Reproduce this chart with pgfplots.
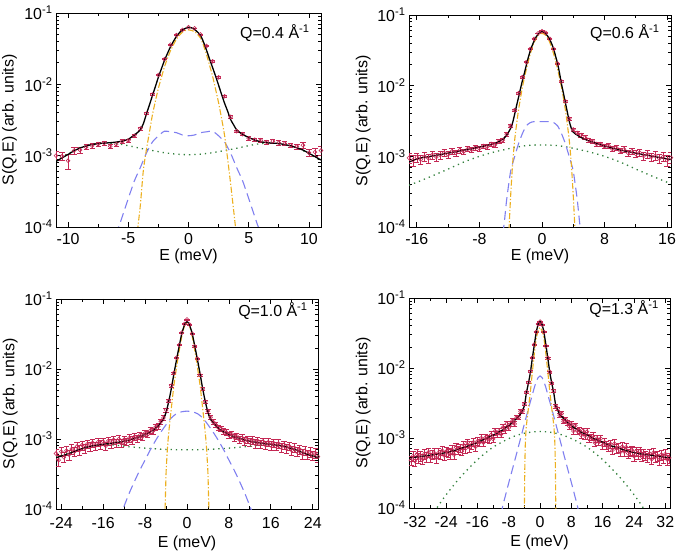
\documentclass[border=0pt]{standalone}
\usepackage{fontspec}
\setmainfont{Liberation Sans}
\usepackage{pgfplots}
\pgfplotsset{compat=1.18}
\definecolor{datc}{RGB}{196,40,84}
\definecolor{ylwc}{RGB}{236,176,32}
\definecolor{bluc}{RGB}{128,128,240}
\definecolor{grnc}{RGB}{50,128,60}
\pgfplotsset{every axis/.append style={
  scale only axis, ymin=1e-4, ymax=1e-1,
  ytick={1e-4,1e-3,1e-2,1e-1},
  yticklabels={10\textsuperscript{-4},10\textsuperscript{-3},10\textsuperscript{-2},10\textsuperscript{-1}},
  minor ytick={2e-4,3e-4,4e-4,5e-4,6e-4,7e-4,8e-4,9e-4,2e-3,3e-3,4e-3,5e-3,6e-3,7e-3,8e-3,9e-3,2e-2,3e-2,4e-2,5e-2,6e-2,7e-2,8e-2,9e-2},
  tick align=inside, major tick length=5bp, minor tick length=3bp,
  axis line style={line width=0.9bp},
  tick style={line width=0.8bp, black},
  tick label style={font=\fontsize{16}{19}\selectfont},
  label style={font=\fontsize{16}{19}\selectfont},
  xlabel={E (meV)}, ylabel={S(Q,E) (arb. units)},
  ylabel style={at={(axis description cs:-0.175,0.5)}, anchor=center},
}}
\tikzset{
 datmk/.style={only marks, mark=o, mark size=1.9bp, color=datc, line width=0.6bp},
 blkline/.style={black, line width=1.3bp, smooth, tension=0.4},
 ylwline/.style={ylwc, line width=1.1bp, dash pattern=on 6bp off 2bp on 1.2bp off 2bp, smooth, tension=0.4},
 bluline/.style={bluc, line width=1.1bp, dash pattern=on 9bp off 5bp, smooth, tension=0.4},
 grnline/.style={grnc, line width=1.3bp, dash pattern=on 1.3bp off 4bp, smooth, tension=0.4},
 qlab/.style={font=\fontsize{16}{19}\selectfont},
}
\begin{document}
\begin{tikzpicture}
\useasboundingbox (0,0) rectangle (677bp,552bp);
% ---------------- Panel 1: Q=0.4
\begin{semilogyaxis}[at={(56bp,325bp)}, anchor=south west, width=265bp, height=214bp,
  xmin=-11, xmax=11, xtick={-10,-5,0,5,10}, xticklabels={-10,-5,0,5,10},
  minor xtick={-7.5,-2.5,2.5,7.5},
  xticklabel style={yshift=-2.5bp},
  xlabel style={at={(axis description cs:0.5,-0.1355)}, anchor=center}]
\addplot[datmk, error bars/.cd, y dir=both, y explicit, error bar style={line width=0.6bp, datc}, error mark options={rotate=90, mark size=2.6bp, line width=0.6bp, datc}] table[x index=0, y index=1, y error index=2] {
-11 0.00100 0.00015
-10.5 0.00098 0.00012
-10 0.00085 0.00020
-9.5 0.00118 0.00013
-9 0.00120 0.00012
-8.5 0.00132 0.00011
-8 0.00138 0.00010
-7.5 0.00145 0.00010
-7 0.00150 0.00010
-6.5 0.00135 0.00010
-6 0.00145 0.00009
-5.5 0.00158 0.00009
-5 0.00163 0.00009
-4.5 0.0019 0.0001
-4 0.0024 0.00011
-3.5 0.0039 0.00014
-3 0.0072 0.0002
-2.5 0.0135 0.0003
-2 0.0225 0.0004
-1.5 0.036 0.0006
-1 0.049 0.0007
-0.5 0.058 0.0008
0 0.063 0.0008
0.5 0.061 0.0008
1 0.050 0.0007
1.5 0.0345 0.0006
2 0.021 0.0004
2.5 0.0125 0.0003
3 0.0068 0.0002
3.5 0.0035 0.00013
4 0.0022 0.0001
4.5 0.0020 0.0001
5 0.00175 0.0001
5.5 0.00168 0.0001
6 0.00165 0.0001
6.5 0.00155 0.0001
7 0.00160 0.0001
7.5 0.00152 0.0001
8 0.00148 0.0001
8.5 0.00140 0.0001
9 0.00135 0.00011
9.5 0.00140 0.00012
10 0.00110 0.00012
10.5 0.00112 0.00014
11 0.00118 0.00018
};
\addplot[grnline, no marks] table {
-11 0.00085
-10 0.00106
-9 0.0013
-8 0.00143
-7 0.0015
-6 0.00148
-5 0.00138
-4 0.00127
-3 0.00118
-2 0.0011
-1 0.00105
0 0.00103
1 0.00105
2 0.0011
3 0.00118
4 0.00127
5 0.00138
6 0.00148
7 0.0015
8 0.00143
9 0.0013
10 0.00106
11 0.00085
};
\addplot[bluline, no marks] table {
-6.2 0.00008
-5.8 0.0001
-5.5 0.00014
-5 0.00025
-4.5 0.00044
-4 0.00068
-3.5 0.00108
-3 0.00155
-2.5 0.0019
-2 0.0022
-1.5 0.00216
-1 0.0021
-0.5 0.00195
0 0.0019
0.5 0.00195
1 0.0021
1.5 0.00216
2 0.0022
2.5 0.0019
3 0.00155
3.5 0.00108
4 0.00068
4.5 0.00044
5 0.00025
5.5 0.00014
5.8 0.0001
6.2 0.00008
};
\addplot[ylwline, no marks] table {
-4.3 0.00006
-4.2 0.0001
-4 0.0002
-3.75 0.00062
-3.5 0.0012
-3.25 0.0021
-3 0.0037
-2.75 0.0058
-2.5 0.0088
-2.25 0.0125
-2 0.0175
-1.75 0.023
-1.5 0.0295
-1.25 0.036
-1 0.043
-0.75 0.049
-0.5 0.054
-0.25 0.057
0 0.058
0.25 0.057
0.5 0.055
0.75 0.050
1 0.0445
1.25 0.035
1.5 0.026
1.75 0.0185
2 0.013
2.25 0.0085
2.5 0.0055
2.75 0.0033
3 0.0019
3.25 0.0009
3.5 0.0004
3.75 0.00017
3.9 0.0001
4 0.00007
};
\addplot[blkline, no marks] table {
-11 0.00083
-10.5 0.00093
-10 0.00104
-9.5 0.00117
-9 0.00128
-8.5 0.00137
-8 0.00143
-7.5 0.00148
-7 0.0015
-6.5 0.00152
-6 0.00155
-5.5 0.0016
-5 0.0017
-4.5 0.00195
-4.25 0.0021
-4 0.0023
-3.75 0.0028
-3.5 0.0038
-3.25 0.0051
-3 0.0069
-2.75 0.0093
-2.5 0.0126
-2.25 0.0165
-2 0.0215
-1.75 0.027
-1.5 0.0335
-1.25 0.040
-1 0.047
-0.75 0.053
-0.5 0.058
-0.25 0.061
0 0.063
0.25 0.062
0.5 0.059
0.75 0.054
1 0.0485
1.25 0.039
1.5 0.030
1.75 0.0225
2 0.0172
2.25 0.013
2.5 0.0097
2.75 0.0072
3 0.0054
3.25 0.0042
3.5 0.0032
3.75 0.0027
4 0.0023
4.5 0.00198
5 0.0018
5.5 0.00165
6 0.00157
6.5 0.00152
7 0.0015
7.5 0.00148
8 0.00143
8.5 0.00137
9 0.00129
9.5 0.0012
10 0.00108
10.5 0.00097
11 0.00087
};
\node[qlab] at (rel axis cs:0.826,0.907) {Q=0.4 Å\textsuperscript{-1}};
\end{semilogyaxis}
% ---------------- Panel 2: Q=0.6
\begin{semilogyaxis}[at={(409bp,325bp)}, anchor=south west, width=262bp, height=212bp,
  xmin=-17, xmax=16.5, xtick={-16,-8,0,8,16}, xticklabels={-16,-8,0,8,16},
  minor xtick={-12,-4,4,12},
  xticklabel style={yshift=-2.5bp},
  xlabel style={at={(axis description cs:0.5,-0.137)}, anchor=center}]
\addplot[datmk, error bars/.cd, y dir=both, y explicit, error bar style={line width=0.6bp, datc}, error mark options={rotate=90, mark size=2.6bp, line width=0.6bp, datc}] table[x index=0, y index=1, y error index=2] {
-17.0 0.00095 0.00016
-16.5 0.00088 0.00015
-16.0 0.00097 0.00015
-15.5 0.00090 0.00014
-15.0 0.00099 0.00014
-14.5 0.00094 0.00013
-14.0 0.00105 0.00013
-13.5 0.00098 0.00012
-13.0 0.00104 0.00012
-12.5 0.00112 0.00012
-12.0 0.00106 0.00011
-11.5 0.00118 0.00011
-11.0 0.00112 0.00011
-10.5 0.00122 0.00011
-10.0 0.00117 0.00010
-9.5 0.00127 0.00010
-9.0 0.00124 0.00010
-8.5 0.00133 0.00010
-8.0 0.00129 0.00010
-7.5 0.00140 0.00010
-7.0 0.00137 0.00010
-6.5 0.00150 0.00010
-6.0 0.00146 0.00010
-5.5 0.00162 0.00010
-5.0 0.00170 0.00011
-4.5 0.00205 0.00012
-4.0 0.0027 0.00013
-3.5 0.0045 0.00016
-3.0 0.0078 0.0002
-2.5 0.0132 0.0003
-2.0 0.0215 0.0004
-1.5 0.033 0.0005
-1.0 0.046 0.0006
-0.5 0.055 0.0007
0.0 0.059 0.0008
0.5 0.056 0.0007
1.0 0.046 0.0006
1.5 0.033 0.0005
2.0 0.0205 0.0004
2.5 0.0115 0.0003
3.0 0.0060 0.0002
3.5 0.0034 0.00015
4.0 0.0024 0.00013
4.5 0.00215 0.00012
5.0 0.00200 0.00011
5.5 0.00185 0.00011
6.0 0.00170 0.00010
6.5 0.00164 0.00010
7.0 0.00150 0.00010
7.5 0.00149 0.00010
8.0 0.00139 0.00010
8.5 0.00142 0.00010
9.0 0.00127 0.00010
9.5 0.00133 0.00011
10.0 0.00120 0.00011
10.5 0.00126 0.00011
11.0 0.00112 0.00011
11.5 0.00118 0.00012
12.0 0.00108 0.00012
12.5 0.00113 0.00012
13.0 0.00101 0.00013
13.5 0.00107 0.00013
14.0 0.00098 0.00013
14.5 0.00102 0.00014
15.0 0.00093 0.00014
15.5 0.00099 0.00015
16.0 0.00088 0.00016
16.5 0.00096 0.00017
};
\addplot[grnline, no marks] table {
-17 0.00039
-16 0.00043
-14 0.00053
-12 0.00066
-10 0.00083
-8 0.001
-6 0.00116
-4 0.0013
-2 0.00142
0 0.00145
2 0.00142
4 0.0013
6 0.00116
8 0.001
10 0.00083
12 0.00066
14 0.00053
16 0.00043
16.5 0.00041
};
\addplot[bluline, no marks] table {
-5 0.00008
-4.8 0.00012
-4.5 0.00025
-4 0.00062
-3.5 0.00098
-3 0.0015
-2.5 0.0021
-2 0.0027
-1.5 0.003
-1 0.0031
0 0.0031
1 0.0031
1.5 0.003
2 0.0027
2.5 0.0021
3 0.0015
3.5 0.00098
4 0.00062
4.5 0.00025
4.8 0.00012
5 0.00008
};
\addplot[ylwline, no marks] table {
-4.4 0.00003
-4.2 0.0001
-4 0.00028
-3.75 0.00079
-3.5 0.00166
-3.25 0.0028
-3 0.0045
-2.5 0.0095
-2 0.017
-1.5 0.028
-1 0.041
-0.5 0.0515
0 0.055
0.5 0.0515
1 0.041
1.5 0.028
2 0.017
2.5 0.0095
3 0.0045
3.25 0.0028
3.5 0.00166
3.75 0.00079
4 0.00028
4.2 0.0001
4.4 0.00003
};
\addplot[blkline, no marks] table {
-17 0.00083
-16 0.00092
-15 0.00097
-14 0.00101
-13 0.00106
-12 0.00111
-11 0.00116
-10 0.00122
-9 0.00128
-8 0.00135
-7 0.00143
-6 0.00152
-5 0.00175
-4.5 0.0020
-4 0.0025
-3.75 0.0030
-3.5 0.0039
-3.25 0.0052
-3 0.0068
-2.75 0.0090
-2.5 0.0118
-2.25 0.015
-2 0.0195
-1.75 0.025
-1.5 0.031
-1.25 0.037
-1 0.043
-0.75 0.049
-0.5 0.053
-0.25 0.057
0 0.058
0.25 0.057
0.5 0.054
0.75 0.050
1 0.045
1.25 0.039
1.5 0.033
1.75 0.026
2 0.0205
2.25 0.015
2.5 0.0105
2.75 0.0078
3 0.0057
3.25 0.0042
3.5 0.0031
3.75 0.0025
4 0.0022
4.5 0.0020
5 0.00185
6 0.00165
7 0.00152
8 0.0014
10 0.00123
12 0.00111
14 0.00101
16 0.00092
16.5 0.0009
};
\node[qlab] at (rel axis cs:0.824,0.915) {Q=0.6 Å\textsuperscript{-1}};
\end{semilogyaxis}
% ---------------- Panel 3: Q=1.0
\begin{semilogyaxis}[at={(56bp,43bp)}, anchor=south west, width=262bp, height=210bp,
  xmin=-25, xmax=25, xtick={-24,-16,-8,0,8,16,24}, xticklabels={-24,-16,-8,0,8,16,24},
  minor xtick={-20,-12,-4,4,12,20},
  xticklabel style={yshift=-4.5bp},
  xlabel style={at={(axis description cs:0.5,-0.162)}, anchor=center}]
\addplot[datmk, error bars/.cd, y dir=both, y explicit, error bar style={line width=0.6bp, datc}, error mark options={rotate=90, mark size=2.6bp, line width=0.6bp, datc}] table[x index=0, y index=1, y error index=2] {
-25.0 0.00062 0.00010
-24.5 0.00050 0.00009
-24.0 0.00066 0.00010
-23.5 0.00055 0.00009
-23.0 0.00068 0.00010
-22.5 0.00060 0.00010
-22.0 0.00072 0.00011
-21.5 0.00066 0.00010
-21.0 0.00078 0.00011
-20.5 0.00070 0.00011
-20.0 0.00082 0.00012
-19.5 0.00074 0.00011
-19.0 0.00085 0.00012
-18.5 0.00078 0.00011
-18.0 0.00088 0.00012
-17.5 0.00080 0.00011
-17.0 0.00090 0.00012
-16.5 0.00083 0.00012
-16.0 0.00092 0.00012
-15.5 0.00080 0.00011
-15.0 0.00094 0.00012
-14.5 0.00086 0.00012
-14.0 0.00097 0.00013
-13.5 0.00088 0.00012
-13.0 0.00100 0.00013
-12.5 0.00087 0.00012
-12.0 0.00098 0.00013
-11.5 0.00092 0.00012
-11.0 0.00103 0.00013
-10.5 0.00096 0.00012
-10.0 0.00108 0.00013
-9.5 0.00101 0.00012
-9.0 0.00113 0.00013
-8.5 0.00108 0.00012
-8.0 0.00121 0.00013
-7.5 0.00117 0.00012
-7.0 0.00132 0.00013
-6.5 0.00130 0.00012
-6.0 0.00148 0.00013
-5.5 0.00152 0.00013
-5.0 0.00178 0.00014
-4.5 0.00200 0.00015
-4.0 0.0026 0.00017
-3.5 0.0035 0.0002
-3.0 0.0058 0.00025
-2.5 0.0088 0.0003
-2.0 0.0145 0.0004
-1.5 0.022 0.0005
-1.0 0.033 0.0006
-0.5 0.044 0.0007
0.0 0.051 0.0008
0.5 0.043 0.0007
1.0 0.032 0.0006
1.5 0.021 0.0005
2.0 0.0140 0.0004
2.5 0.0082 0.0003
3.0 0.0052 0.00025
3.5 0.0034 0.0002
4.0 0.0025 0.00017
4.5 0.00205 0.00015
5.0 0.00176 0.00014
5.5 0.00160 0.00013
6.0 0.00145 0.00013
6.5 0.00140 0.00012
7.0 0.00128 0.00012
7.5 0.00124 0.00012
8.0 0.00114 0.00012
8.5 0.00118 0.00012
9.0 0.00105 0.00012
9.5 0.00110 0.00012
10.0 0.00098 0.00012
10.5 0.00104 0.00012
11.0 0.00093 0.00012
11.5 0.00099 0.00012
12.0 0.00090 0.00012
12.5 0.00096 0.00012
13.0 0.00086 0.00012
13.5 0.00094 0.00012
14.0 0.00085 0.00012
14.5 0.00092 0.00012
15.0 0.00082 0.00011
15.5 0.00090 0.00012
16.0 0.00081 0.00011
16.5 0.00088 0.00012
17.0 0.00079 0.00011
17.5 0.00086 0.00012
18.0 0.00076 0.00011
18.5 0.00083 0.00011
19.0 0.00073 0.00011
19.5 0.00079 0.00011
20.0 0.00069 0.00010
20.5 0.00075 0.00011
21.0 0.00066 0.00010
21.5 0.00071 0.00010
22.0 0.00062 0.00010
22.5 0.00068 0.00010
23.0 0.00060 0.00009
23.5 0.00065 0.00010
24.0 0.00058 0.00009
24.5 0.00063 0.00010
25.0 0.00056 0.00009
};
\addplot[grnline, no marks] table {
-25 0.00055
-22 0.00065
-20 0.00073
-18 0.0008
-16 0.00083
-14 0.00082
-12 0.00079
-8 0.00074
-4 0.00071
0 0.0007
4 0.00071
8 0.00074
12 0.00079
14 0.00082
16 0.00083
18 0.0008
20 0.00073
22 0.00065
25 0.00055
};
\addplot[bluline, no marks] table {
-13 0.00007
-12 0.00011
-11 0.00017
-10 0.00025
-9 0.00036
-8 0.0005
-7 0.0007
-6 0.00095
-5 0.00125
-4 0.0016
-3 0.002
-2 0.0023
-1 0.00245
0 0.0025
1 0.00245
2 0.0023
3 0.002
4 0.0016
5 0.00125
6 0.00095
7 0.0007
8 0.0005
9 0.00036
10 0.00025
11 0.00017
12 0.00011
13 0.00007
};
\addplot[ylwline, no marks] table {
-4.3 0.00007
-4.15 0.00012
-4 0.00032
-3.75 0.0007
-3.5 0.0012
-3 0.0027
-2.5 0.0058
-2 0.0105
-1.5 0.018
-1 0.029
-0.5 0.041
0 0.046
0.5 0.041
1 0.029
1.5 0.018
2 0.0105
2.5 0.0058
3 0.0027
3.5 0.0012
3.75 0.0007
4 0.00032
4.15 0.00012
4.3 0.00007
};
\addplot[blkline, no marks] table {
-25 0.00054
-24 0.00057
-23 0.0006
-22 0.00064
-21 0.00069
-20 0.00073
-19 0.00077
-18 0.0008
-17 0.00082
-16 0.00084
-15 0.00086
-14 0.00088
-13 0.0009
-12 0.00093
-11 0.00097
-10 0.00102
-9 0.00108
-8 0.00116
-7 0.00126
-6 0.00142
-5 0.0017
-4.5 0.0019
-4 0.0024
-3.5 0.0034
-3 0.0052
-2.5 0.0085
-2 0.0135
-1.5 0.021
-1 0.032
-0.5 0.042
0 0.048
0.5 0.042
1 0.032
1.5 0.021
2 0.0135
2.5 0.0085
3 0.0052
3.5 0.0034
4 0.0024
4.5 0.0019
5 0.0017
6 0.00142
7 0.00126
8 0.00116
9 0.00108
10 0.00102
11 0.00097
12 0.00093
13 0.0009
14 0.00088
15 0.00086
16 0.00084
17 0.00082
18 0.0008
19 0.00077
20 0.00073
21 0.00069
22 0.00064
23 0.0006
24 0.00057
25 0.00054
};
\node[qlab] at (rel axis cs:0.828,0.943) {Q=1.0 Å\textsuperscript{-1}};
\end{semilogyaxis}
% ---------------- Panel 4: Q=1.3
\begin{semilogyaxis}[at={(409bp,44bp)}, anchor=south west, width=261bp, height=210bp,
  xmin=-33.5, xmax=33.2, xtick={-32,-24,-16,-8,0,8,16,24,32}, xticklabels={-32,-24,-16,-8,0,8,16,24,32},
  minor xtick={-28,-20,-12,-4,4,12,20,28},
  xticklabel style={yshift=-4.5bp},
  xlabel style={at={(axis description cs:0.5,-0.162)}, anchor=center}]
\addplot[datmk, error bars/.cd, y dir=both, y explicit relative, error bar style={line width=0.6bp, datc}, error mark options={rotate=90, mark size=2.6bp, line width=0.6bp, datc}] table[x index=0, y index=1, y error index=2] {
-33 0.00048 0.16
-32.5 0.00055 0.16
-32 0.00047 0.16
-31.5 0.00059 0.16
-31 0.00052 0.16
-30.5 0.00056 0.16
-30 0.00050 0.16
-29.5 0.00060 0.16
-29 0.00053 0.16
-28.5 0.00063 0.15
-28 0.00053 0.15
-27.5 0.000575 0.15
-27 0.00061 0.15
-26.5 0.00052 0.15
-26 0.00061 0.15
-25.5 0.00058 0.15
-25 0.00066 0.15
-24.5 0.00056 0.15
-24 0.00064 0.15
-23.5 0.00062 0.15
-23 0.00059 0.15
-22.5 0.00068 0.14
-22 0.00058 0.14
-21.5 0.00074 0.14
-21 0.00067 0.14
-20.5 0.00072 0.14
-20 0.00065 0.14
-19.5 0.00079 0.14
-19 0.00071 0.14
-18.5 0.00086 0.13
-18 0.00073 0.13
-17.5 0.00080 0.13
-17 0.00087 0.13
-16.5 0.00075 0.13
-16 0.00090 0.13
-15.5 0.00086 0.12
-15 0.00100 0.12
-14.5 0.00086 0.12
-14 0.00100 0.12
-13.5 0.00098 0.12
-13 0.00095 0.11
-12.5 0.00111 0.11
-12 0.00097 0.11
-11.5 0.00125 0.11
-11 0.00114 0.10
-10.5 0.00124 0.10
-10 0.00113 0.10
-9.5 0.00141 0.10
-9 0.00130 0.09
-8.5 0.00160 0.09
-8 0.00140 0.09
-7.5 0.00159 0.08
-7 0.00178 0.08
-6.5 0.00159 0.08
-6 0.00198 0.07
-5.5 0.00197 0.07
-5 0.0024 0.07
-4.5 0.00243 0.06
-4 0.00305 0.05
-3.5 0.00453 0.04
-3 0.0062 0.04
-2.5 0.0089 0.03
-2 0.0140 0.03
-1.5 0.0216 0.02
-1 0.0326 0.02
-0.5 0.0424 0.02
0 0.046 0.02
0.5 0.0416 0.02
1 0.0326 0.02
1.5 0.0206 0.02
2 0.0139 0.03
2.5 0.0088 0.03
3 0.0061 0.04
3.5 0.0047 0.04
4 0.00284 0.05
4.5 0.00263 0.06
5 0.00211 0.07
5.5 0.00223 0.07
6 0.00173 0.07
6.5 0.00184 0.08
7 0.00165 0.08
7.5 0.00146 0.08
8 0.00158 0.09
8.5 0.00126 0.09
9 0.00151 0.09
9.5 0.00127 0.10
10 0.00129 0.10
10.5 0.00110 0.10
11 0.00127 0.10
11.5 0.00108 0.11
12 0.00123 0.11
12.5 0.00099 0.11
13 0.00103 0.11
13.5 0.00106 0.12
14 0.00086 0.12
14.5 0.00098 0.12
15 0.00088 0.12
15.5 0.00098 0.12
16 0.00079 0.13
16.5 0.00087 0.13
17 0.00080 0.13
17.5 0.00074 0.13
18 0.00082 0.13
18.5 0.00067 0.13
19 0.00083 0.14
19.5 0.00071 0.14
20 0.00073 0.14
20.5 0.00063 0.14
21 0.00075 0.14
21.5 0.00064 0.14
22 0.00074 0.14
22.5 0.00060 0.15
23 0.00064 0.15
23.5 0.00067 0.15
24 0.00055 0.15
24.5 0.00064 0.15
25 0.00059 0.15
25.5 0.00065 0.15
26 0.00054 0.15
26.5 0.00060 0.15
27 0.00057 0.15
27.5 0.00053 0.15
28 0.00060 0.15
28.5 0.00050 0.16
29 0.00062 0.16
29.5 0.00054 0.16
30 0.00056 0.16
30.5 0.00049 0.16
31 0.00058 0.16
31.5 0.00051 0.16
32 0.00059 0.16
32.5 0.00049 0.16
33 0.00052 0.16
};
\addplot[grnline, no marks] table {
-30 0.00004
-28 0.00007
-26 0.000108
-24 0.000155
-22 0.000215
-20 0.00029
-18 0.00038
-16 0.00049
-14 0.00061
-12 0.00074
-10 0.00086
-8 0.00098
-6 0.00109
-4 0.00117
-2 0.00122
0 0.00124
2 0.00122
4 0.00117
6 0.00109
8 0.00098
10 0.00086
12 0.00074
14 0.00061
16 0.00049
18 0.00038
20 0.00029
22 0.000215
24 0.000155
26 0.000108
28 0.00007
30 0.00004
};
\addplot[bluline, no marks] table {
-10 0.00008
-9.5 0.00011
-9 0.00014
-8 0.00023
-7 0.00037
-6 0.0006
-5 0.00098
-4 0.0016
-3 0.0026
-2 0.0041
-1.5 0.0052
-1 0.0063
-0.5 0.0073
0 0.0077
0.5 0.0073
1 0.0063
1.5 0.0052
2 0.0041
3 0.0026
4 0.0016
5 0.00098
6 0.0006
7 0.00037
8 0.00023
9 0.00014
9.5 0.00011
10 0.00008
};
\addplot[ylwline, no marks] table {
-4.05 0.00008
-4 0.00012
-3.9 0.0004
-3.75 0.0009
-3.5 0.0015
-3 0.0026
-2.5 0.0045
-2 0.0085
-1.5 0.0155
-1 0.026
-0.5 0.034
0 0.038
0.5 0.034
1 0.026
1.5 0.0155
2 0.0085
2.5 0.0045
3 0.0026
3.5 0.0015
3.75 0.0009
3.9 0.0004
4 0.00012
4.05 0.00008
};
\addplot[blkline, no marks] table {
-33.5 0.00052
-32 0.00053
-30 0.00055
-28 0.00057
-26 0.00059
-24 0.00062
-22 0.00066
-20 0.00072
-18 0.00078
-16 0.00087
-14 0.00097
-12 0.0011
-10 0.00126
-9 0.00137
-8 0.0015
-7 0.00168
-6 0.0019
-5 0.0022
-4.5 0.0025
-4 0.0029
-3.5 0.0044
-3 0.006
-2.5 0.0085
-2 0.0135
-1.5 0.021
-1 0.032
-0.5 0.042
0 0.046
0.5 0.042
1 0.032
1.5 0.021
2 0.0135
2.5 0.0085
3 0.006
3.5 0.0044
4 0.0029
4.5 0.0025
5 0.0022
6 0.0019
7 0.00168
8 0.0015
9 0.00137
10 0.00126
12 0.0011
14 0.00097
16 0.00087
18 0.00078
20 0.00072
22 0.00066
24 0.00062
26 0.00059
28 0.00057
30 0.00055
32 0.00053
33.5 0.00052
};
\node[qlab] at (rel axis cs:0.824,0.948) {Q=1.3 Å\textsuperscript{-1}};
\end{semilogyaxis}
\end{tikzpicture}
\end{document}
